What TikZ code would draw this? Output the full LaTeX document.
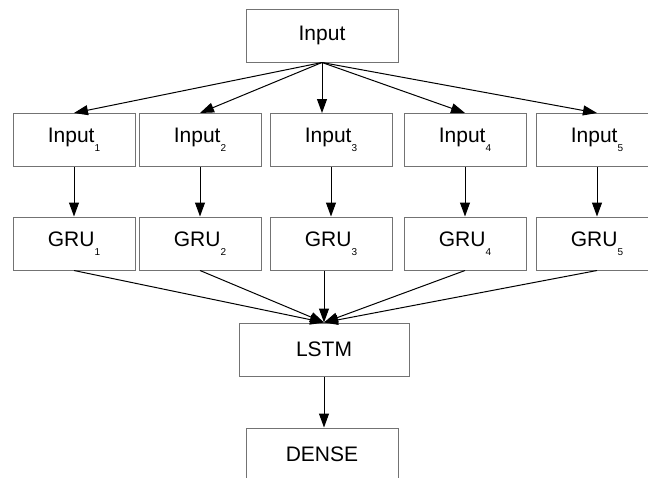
\documentclass[tikz,border=0pt]{standalone}
\usepackage{fontspec}
\setmainfont{Liberation Sans}
\usetikzlibrary{arrows.meta}
\newcommand{\layersub}[1]{\raisebox{-9pt}{\fontsize{10}{10}\selectfont #1}}
\tikzset{
    	every node/.append style={font=\fontsize{21}{24}\selectfont}}

\begin{document}
\begin{tikzpicture}
  [x=1pt,y=-1pt,
   box/.style={draw=black!55,line width=1pt,minimum width=122pt,minimum height=53pt,inner sep=0pt},
   arr/.style={-{Triangle[length=14pt,width=10pt]},line width=1pt}]
  \useasboundingbox (0,0) rectangle (648,477);
  \node [box,minimum width=152pt] (inp) at (322,35.5) {Input};
  \node [box] (in1) at (74,140) {Input\layersub{1}};
  \node [box] (in2) at (200,140) {Input\layersub{2}};
  \node [box] (in3) at (331,140) {Input\layersub{3}};
  \node [box] (in4) at (465,140) {Input\layersub{4}};
  \node [box] (in5) at (597,140) {Input\layersub{5}};
  \node [box] (gru1) at (74,243.5) {GRU\layersub{1}};
  \node [box] (gru2) at (200,243.5) {GRU\layersub{2}};
  \node [box] (gru3) at (331,243.5) {GRU\layersub{3}};
  \node [box] (gru4) at (465,243.5) {GRU\layersub{4}};
  \node [box] (gru5) at (597,243.5) {GRU\layersub{5}};
  \node [box,minimum width=170pt] (lstm) at (324,349.5) {LSTM};
  \node [box,minimum width=152pt] (dense) at (322,454.5) {DENSE};

  \foreach \to in {in1,in2,in4,in5}
    \draw [arr] (inp.south) -- (\to.north);
  \draw [arr] (inp.south) -- (inp.south |- in3.north);

  \foreach \i in {1,...,5}
    \draw [arr] (in\i.south) -- (gru\i.north);

  \foreach \from in {gru1,gru2,gru4,gru5}
    \draw [arr] (\from.south) -- (lstm.north);
  \draw [arr] (lstm.north |- gru3.south) -- (lstm.north);

  \draw [arr] (lstm.south) -- (lstm.south |- dense.north);
\end{tikzpicture}
\end{document}
